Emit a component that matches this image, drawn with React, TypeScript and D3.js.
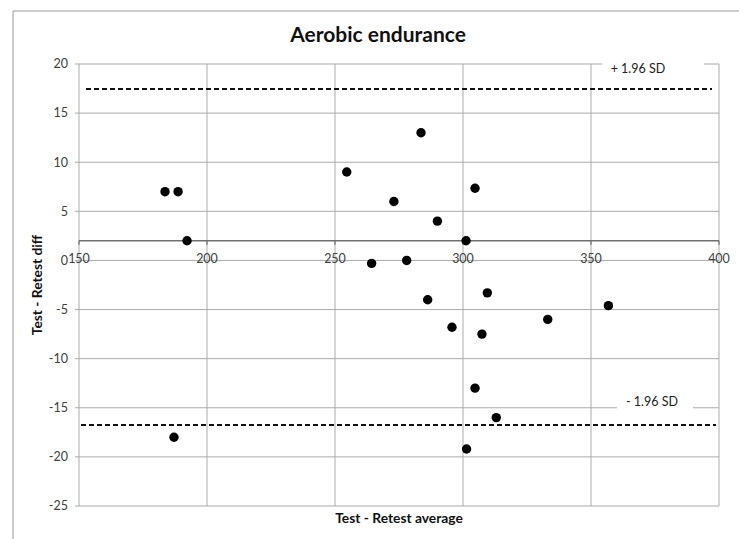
import React from "react";
import * as d3 from "d3";

const avgValues = [183.6, 188.7, 192.2, 254.6, 264.3, 273, 278, 283.6, 290, 301.2, 304.7, 286.2, 309.5, 295.7, 307.4, 333.1, 356.8, 304.7, 313, 301.4, 187.1];
const diffValues = [7, 7, 2, 9, -0.3, 6, 0, 13, 4, 2, 7.35, -4, -3.3, -6.8, -7.5, -6, -4.6, -13, -16, -19.2, -18];
const xTicks = [150, 200, 250, 300, 350, 400];
const yTicks = [20, 15, 10, 5, 0, -5, -10, -15, -20, -25];
const meanDiff = 2;
const upperLimit = 17.45;
const lowerLimit = -16.75;
const upperLabel = "+ 1.96 SD";
const lowerLabel = "- 1.96 SD";

const W = 739, H = 539;
const left = 79, right = 719, top = 64, bottom = 506;
const font = "Lato, 'Open Sans', sans-serif";

export default function App() {
  const x = d3.scaleLinear().domain([150, 400]).range([left, right]);
  const y = d3.scaleLinear().domain([-25, 20]).range([bottom, top]);
  const grid = "#ababab";
  return (
    <svg width={W} height={H} style={{ position: "absolute", left: 0, top: 0, background: "#fff" }} fontFamily={font}>
      <rect x={0} y={0} width={W} height={H} fill="#fff" />
      {/* outer frame */}
      <line x1={13} y1={11} x2={W} y2={11} stroke="#9a9a9a" strokeWidth={1} />
      <line x1={13} y1={11} x2={13} y2={H} stroke="#9a9a9a" strokeWidth={1} />
      <text x={378} y={42} textAnchor="middle" fontSize={21} fontWeight="bold" fill="#111">Aerobic endurance</text>
      {/* horizontal gridlines */}
      {yTicks.map((t) => (
        <g key={"y" + t}>
          <line x1={left - 4} x2={right} y1={y(t)} y2={y(t)} stroke={grid} strokeWidth={1} />
          <text x={left - 11} y={y(t)} dy="0.35em" textAnchor="end" fontSize={12.5} fill="#404040">{t}</text>
        </g>
      ))}
      {/* vertical gridlines */}
      {xTicks.map((t) => (
        <line key={"x" + t} x1={x(t)} x2={x(t)} y1={top} y2={bottom} stroke={grid} strokeWidth={1} />
      ))}
      {/* mean line = horizontal axis */}
      <line x1={left} x2={right} y1={y(meanDiff)} y2={y(meanDiff)} stroke="#707070" strokeWidth={1.6} />
      {xTicks.map((t) => (
        <g key={"xl" + t}>
          <line x1={x(t)} x2={x(t)} y1={y(meanDiff)} y2={y(meanDiff) + 4} stroke="#707070" strokeWidth={1.2} />
          <text x={x(t)} y={y(0) - 2} dy="0.35em" textAnchor="middle" fontSize={12.5} fill="#404040">{t}</text>
        </g>
      ))}
      {/* limit lines */}
      <line x1={86} x2={712} y1={y(upperLimit)} y2={y(upperLimit)} stroke="#111" strokeWidth={2} strokeDasharray="5,3" />
      <line x1={81} x2={716} y1={y(lowerLimit)} y2={y(lowerLimit)} stroke="#111" strokeWidth={2} strokeDasharray="5,3" />
      {/* labels with white boxes */}
      <rect x={602} y={57} width={102} height={22} fill="#fff" />
      <text x={638} y={y(20) + 5} dy="0.35em" textAnchor="middle" fontSize={12.5} fill="#222">{upperLabel}</text>
      <rect x={617} y={395} width={76} height={22} fill="#fff" />
      <text x={652} y={y(-15) - 6} dy="0.35em" textAnchor="middle" fontSize={12.5} fill="#222">{lowerLabel}</text>
      {/* points */}
      {avgValues.map((a, i) => (
        <circle key={i} cx={x(a)} cy={y(diffValues[i])} r={4.7} fill="#000" />
      ))}
      {/* axis titles */}
      <text transform={`translate(42,${285}) rotate(-90)`} textAnchor="middle" fontSize={13.8} fontWeight="bold" fill="#111">Test - Retest diff</text>
      <text x={399} y={523} textAnchor="middle" fontSize={13.8} fontWeight="bold" fill="#111">Test - Retest average</text>
    </svg>
  );
}
